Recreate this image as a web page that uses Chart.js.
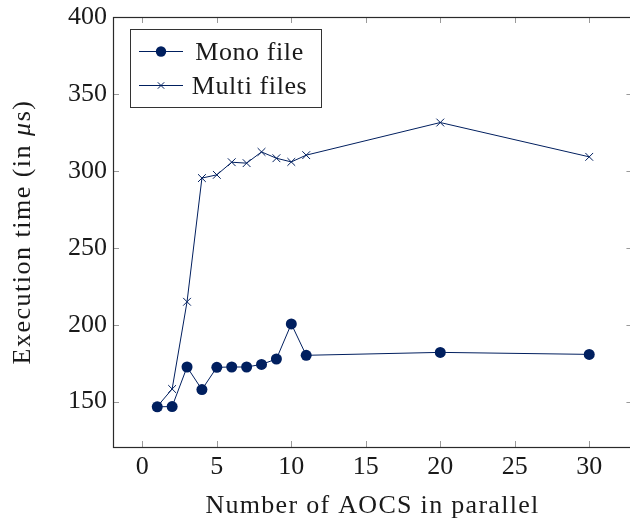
<!DOCTYPE html>
<html>
<head>
<meta charset="utf-8">
<script src="https://cdn.jsdelivr.net/npm/chart.js@4"></script>
<style>
html,body{margin:0;padding:0;background:#fff;overflow:hidden;width:630px;height:520px;}
#wrap{width:630px;height:520px;}
canvas{display:block;}
</style>
</head>
<body>
<div id="wrap"><canvas id="c" width="630" height="520" style="width:630px;height:520px"></canvas></div>
<script>
const xValues = [1, 2, 3, 4, 5, 6, 7, 8, 9, 10, 11, 20, 30];
const monoFile = [146.6, 146.8, 172.5, 157.8, 172.3, 172.5, 172.5, 174.2, 177.7, 200.5, 180.1, 182.0, 180.7];
const multiFiles = [146.8, 158.2, 214.9, 295.3, 297.4, 305.6, 305.0, 312.3, 308.2, 305.8, 310.2, 331.4, 309.1];
const seriesLabels = ['Mono file', 'Multi files'];
const xTickValues = [0, 5, 10, 15, 20, 25, 30];
const yTickValues = [150, 200, 250, 300, 350, 400];
const xAxisLimits = [-1.97, 32.3];   // visible part of the axis
const xFrameRight = 32.9;            // axis box continues just past the window edge
const yAxisLimits = [120.5, 400];
const xTitle = 'Number of AOCS in parallel';
const yTitleParts = [['Execution time (in ', false], ['\u03BC', true], ['s)', false]];

const FONT = '"Liberation Serif", "Times New Roman", serif';
const NAVY = '#001f5f';
const TEXT = '#1a1a1a';

const toPoints = (ys) => xValues.map((x, i) => ({x: x, y: ys[i]}));

function setSpacing(ctx, v) { if ('letterSpacing' in ctx) ctx.letterSpacing = v; }

const framePlugin = {
  id: 'frame',
  afterDatasetsDraw(chart) {
    const ctx = chart.ctx;
    const a = chart.chartArea;
    const xs = chart.scales.x, ys = chart.scales.y;
    const right = xs.getPixelForValue(xFrameRight);
    ctx.save();
    // inward ticks
    ctx.strokeStyle = '#9a9a9a';
    ctx.lineWidth = 1;
    const L = 6;
    ctx.beginPath();
    xs.ticks.forEach(t => {
      const p = Math.round(xs.getPixelForValue(t.value)) + 0.5;
      ctx.moveTo(p, a.bottom); ctx.lineTo(p, a.bottom - L);
      ctx.moveTo(p, a.top); ctx.lineTo(p, a.top + L);
    });
    ys.ticks.forEach(t => {
      const p = Math.round(ys.getPixelForValue(t.value)) + 0.5;
      ctx.moveTo(a.left, p); ctx.lineTo(a.left + L, p);
      ctx.moveTo(right, p); ctx.lineTo(right - L, p);
    });
    ctx.stroke();
    // frame
    ctx.strokeStyle = '#2a2a2a';
    ctx.lineWidth = 1.2;
    ctx.strokeRect(Math.round(a.left) + 0.5, Math.round(a.top) + 0.5,
                   Math.round(right - a.left), Math.round(a.bottom - a.top));
    // legend
    const bx = 130.5, by = 29.5, bw = 191, bh = 78;
    ctx.fillStyle = '#fff';
    ctx.fillRect(bx, by, bw, bh);
    ctx.strokeStyle = '#333';
    ctx.lineWidth = 1;
    ctx.strokeRect(bx, by, bw, bh);
    const rows = [51.5, 85.5];
    chart.data.datasets.forEach((ds, i) => {
      const cy = rows[i];
      ctx.strokeStyle = ds.borderColor;
      ctx.lineWidth = 1;
      ctx.beginPath();
      ctx.moveTo(139, cy); ctx.lineTo(183, cy);
      ctx.stroke();
      if (ds.pointStyle === 'circle') {
        ctx.fillStyle = NAVY;
        ctx.beginPath();
        ctx.arc(161, cy, 5.2, 0, Math.PI * 2);
        ctx.fill();
      } else {
        const r = 3.2;
        ctx.strokeStyle = NAVY;
        ctx.beginPath();
        ctx.moveTo(161 - r, cy - r); ctx.lineTo(161 + r, cy + r);
        ctx.moveTo(161 - r, cy + r); ctx.lineTo(161 + r, cy - r);
        ctx.stroke();
      }
      ctx.fillStyle = TEXT;
      ctx.font = '26px ' + FONT;
      setSpacing(ctx, '0.6px');
      ctx.textBaseline = 'alphabetic';
      ctx.textAlign = 'center';
      ctx.fillText(ds.label, 249.5, cy + 8.5);
    });
    // x title
    ctx.font = '26px ' + FONT;
    setSpacing(ctx, '1.3px');
    ctx.textAlign = 'center';
    ctx.textBaseline = 'alphabetic';
    ctx.fillStyle = TEXT;
    ctx.fillText(xTitle, 372.5, 513);
    // y title (rotated, segments)
    ctx.save();
    ctx.translate(29.5, 232);
    ctx.rotate(-Math.PI / 2);
    setSpacing(ctx, '1.5px');
    let total = 0;
    const widths = yTitleParts.map(([s, it]) => {
      ctx.font = (it ? 'italic ' : '') + '26px ' + FONT;
      const w = ctx.measureText(s).width;
      total += w;
      return w;
    });
    let xpos = -total / 2;
    ctx.textAlign = 'left';
    yTitleParts.forEach(([s, it], i) => {
      ctx.font = (it ? 'italic ' : '') + '26px ' + FONT;
      ctx.fillText(s, xpos, 0);
      xpos += widths[i];
    });
    ctx.restore();
    setSpacing(ctx, '0px');
    ctx.restore();
  }
};

new Chart(document.getElementById('c'), {
  type: 'line',
  data: {
    datasets: [
      {
        label: seriesLabels[0],
        data: toPoints(monoFile),
        borderColor: NAVY,
        backgroundColor: NAVY,
        borderWidth: 1,
        pointStyle: 'circle',
        pointRadius: 5.5,
        pointBorderWidth: 0,
        pointBackgroundColor: NAVY,
        tension: 0
      },
      {
        label: seriesLabels[1],
        data: toPoints(multiFiles),
        borderColor: NAVY,
        backgroundColor: NAVY,
        borderWidth: 1,
        pointStyle: 'crossRot',
        pointRadius: 5.5,
        pointBorderWidth: 1,
        pointBorderColor: NAVY,
        tension: 0
      }
    ]
  },
  options: {
    responsive: false,
    animation: false,
    devicePixelRatio: 1,
    layout: {padding: {left: 0, top: 17, right: 2.5, bottom: 0}},
    plugins: {legend: {display: false}, tooltip: {enabled: false}},
    scales: {
      x: {
        type: 'linear',
        min: xAxisLimits[0],
        max: xAxisLimits[1],
        afterBuildTicks: s => { s.ticks = xTickValues.map(v => ({value: v})); },
        afterFit: s => { s.height = 73; s.paddingLeft = 0; s.paddingRight = 0; s.paddingTop = 0; s.paddingBottom = 0; },
        grid: {display: false, drawTicks: false},
        border: {display: false},
        ticks: {color: TEXT, font: {family: FONT, size: 26}, padding: 5, maxRotation: 0, autoSkip: false}
      },
      y: {
        type: 'linear',
        min: yAxisLimits[0],
        max: yAxisLimits[1],
        afterBuildTicks: s => { s.ticks = yTickValues.map(v => ({value: v})); },
        afterFit: s => { s.width = 113; s.paddingLeft = 0; s.paddingRight = 0; s.paddingTop = 0; s.paddingBottom = 0; },
        grid: {display: false, drawTicks: false},
        border: {display: false},
        ticks: {color: TEXT, font: {family: FONT, size: 26}, padding: 6, autoSkip: false}
      }
    }
  },
  plugins: [framePlugin]
});
</script>
</body>
</html>
